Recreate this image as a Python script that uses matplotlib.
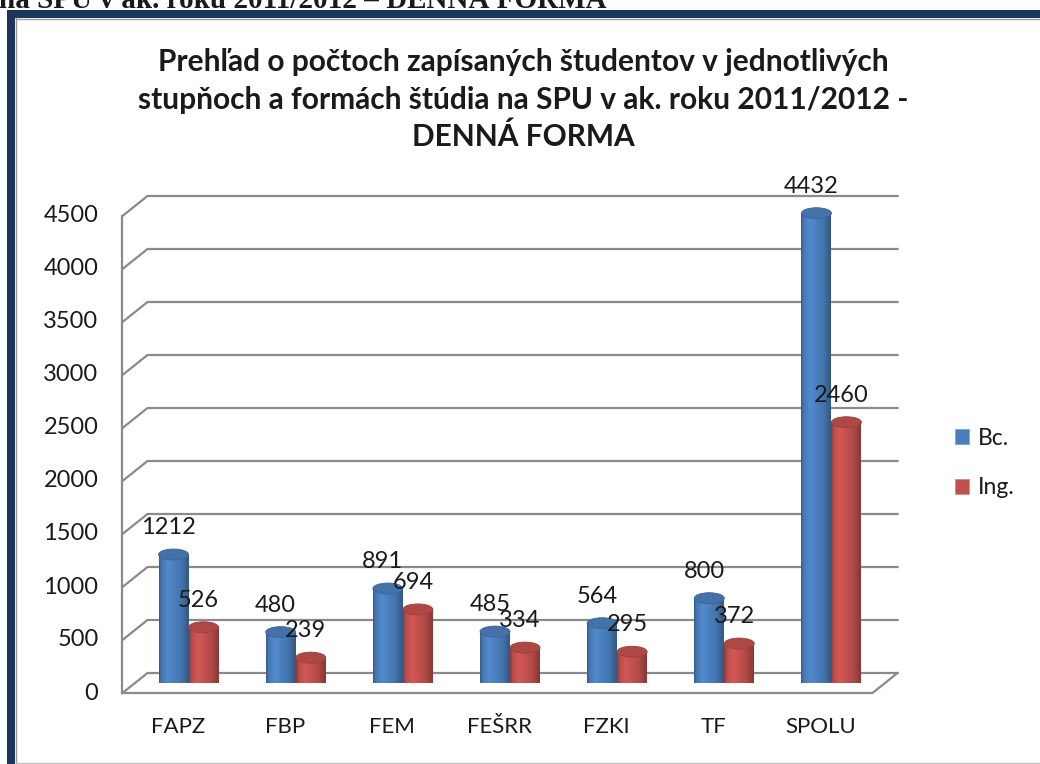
import numpy as np
import matplotlib
matplotlib.use("Agg")
import matplotlib.pyplot as plt
from matplotlib.patches import Rectangle, Ellipse, Patch
from matplotlib.lines import Line2D
from matplotlib.colors import to_rgb

# data
categories = ["FAPZ", "FBP", "FEM", "FEŠRR", "FZKI", "TF", "SPOLU"]
bc = [1212, 480, 891, 485, 564, 800, 4432]
ing = [526, 239, 694, 334, 295, 372, 2460]
series_names = ["Bc.", "Ing."]
yticks = list(range(0, 5000, 500))

title_lines = ["Prehľad o počtoch zapísaných študentov v jednotlivých",
               "stupňoch a formách štúdia na SPU v ak. roku 2011/2012 -",
               "DENNÁ FORMA"]
caption = "na SPU v ak. roku 2011/2012 – DENNÁ FORMA"

W, H = 1040, 764
blue = "#4a7ebb"
red = "#c0504d"
grid = "#8a8a8a"
navy = "#1b365d"

plt.rcParams['font.family'] = ['Lato', 'DejaVu Sans']
plt.rcParams['text.color'] = '#1a1a1a'

fig = plt.figure(figsize=(W / 100, H / 100), dpi=100)
fig.patch.set_facecolor('white')


def fx(x):
    return x / W


def fy(y):
    return 1 - y / H


# screenshot frame around the chart
fig.add_artist(Rectangle((fx(7), 0), 8 / W, fy(10), color=navy, lw=0))
fig.add_artist(Rectangle((fx(7), fy(18)), (W - 7) / W, 8 / H, color=navy, lw=0))
fig.add_artist(Line2D([fx(15.5), fx(15.5)], [0, fy(18)], color='#9a9a9a', lw=1))
fig.add_artist(Line2D([fx(15.5), 1], [fy(18.5), fy(18.5)], color='#9a9a9a', lw=1))
fig.add_artist(Line2D([fx(16), 1], [fy(762.5), fy(762.5)], color='#c4c4c4', lw=1))
fig.text(fx(-1), fy(8), caption, family=['Liberation Serif'], weight='bold',
         fontsize=21, ha='left', va='baseline')

# title
for k, line in enumerate(title_lines):
    fig.text(fx(523), fy(62 + 37.5 * k), line, ha='center', va='center',
             fontsize=21.5, weight='bold')

# plotting plane = middle depth of the 3D box
ax = fig.add_axes([fx(135), fy(683), 750 / W, 477 / H])
ax.axis('off')
xmin, xmax = -0.5, len(categories) - 0.5
ymax = 4500
px_x = 750 / len(categories)
px_y = 477 / ymax
dx = 12.5 / px_x   # half depth of the box in data units
dy = 10 / px_y

# back wall grid + side wall
for v in yticks:
    ax.plot([xmin - dx, xmin + dx, xmax + dx], [v - dy, v + dy, v + dy],
            color=grid, lw=1.6, clip_on=False, zorder=1)
ax.plot([xmin - dx, xmin - dx], [-dy, ymax - dy], color=grid, lw=1.6,
        clip_on=False, zorder=1)
ax.plot([xmin - dx, xmax - dx, xmax + dx], [-dy, -dy, dy], color=grid,
        lw=1.6, clip_on=False, zorder=1)


def shade(color, n=80):
    c = np.array(to_rgb(color))
    t = np.linspace(0, 1, n)
    f = np.interp(t, [0, 0.08, 0.3, 0.75, 1], [0.72, 0.95, 1.1, 0.92, 0.7])
    return np.clip(c[None, :] * f[:, None], 0, 1)[None, :, :]


bw = 0.28
eh = 11 / px_y


def cylinder(x0, v, color, z):
    img = shade(color)
    body = Rectangle((x0, 0), bw, v, fc='none', ec='none')
    ax.add_patch(body)
    im = ax.imshow(img, extent=[x0, x0 + bw, 0, v], aspect='auto',
                   interpolation='bilinear', zorder=z)
    im.set_clip_path(body)
    base = Ellipse((x0 + bw / 2, 0), bw, eh, fc='none', ec='none')
    ax.add_patch(base)
    im2 = ax.imshow(img, extent=[x0, x0 + bw, -eh / 2, v], aspect='auto',
                    interpolation='bilinear', zorder=z)
    im2.set_clip_path(base)
    top_c = np.array(to_rgb(color)) * 0.9
    ax.add_patch(Ellipse((x0 + bw / 2, v), bw, eh, fc=top_c,
                         ec=np.array(to_rgb(color)) * 0.8, lw=0.6, zorder=z + 0.5))


for i, (b, g) in enumerate(zip(bc, ing)):
    cylinder(i - bw, b, blue, 3)
    cylinder(i, g, red, 4)
    ax.annotate(str(b), (i - bw / 2, b), xytext=(-5, 27), textcoords='offset pixels',
                ha='center', va='center', fontsize=17, zorder=6)
    ax.annotate(str(g), (i + bw / 2, g), xytext=(-5, 27), textcoords='offset pixels',
                ha='center', va='center', fontsize=17, zorder=6)

for v in yticks:
    ax.annotate(str(v), (xmin - dx, v - dy), xytext=(-24, 0), textcoords='offset pixels',
                ha='right', va='center', fontsize=17, annotation_clip=False)
for i, cat in enumerate(categories):
    ax.annotate(cat, (i - dx, -dy), xytext=(2, -34), textcoords='offset pixels',
                ha='center', va='center', fontsize=16, annotation_clip=False)

ax.set_xlim(xmin, xmax)
ax.set_ylim(0, ymax)

handles = [Patch(fc=blue, ec='#7fa3d3', lw=0.6), Patch(fc=red, ec='#d98a87', lw=0.6)]
fig.legend(handles, series_names, loc='center left', bbox_to_anchor=(fx(955), fy(463)),
           frameon=False, fontsize=16.5, handlelength=0.6, handleheight=0.6,
           handletextpad=0.4, labelspacing=1.25, borderpad=0, borderaxespad=0)

fig.savefig("out.png", dpi=100)
